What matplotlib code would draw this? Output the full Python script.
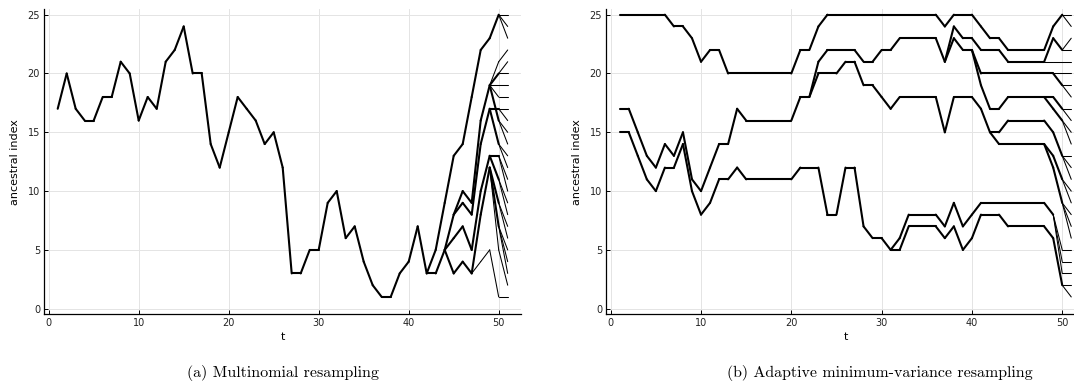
import matplotlib
matplotlib.use('Agg')
import matplotlib.pyplot as plt
from matplotlib.collections import LineCollection
from collections import Counter

T_END = 51

# (a) multinomial resampling: the common ancestral path, t = 1..51
trunk_a = [17, 20, 17, 16, 16, 18, 18, 21, 20, 16,
           18, 17, 21, 22, 24, 20, 20, 14, 12, 15,
           18, 17, 16, 14, 15, 12, 3, 3, 5, 5,
           9, 10, 6, 7, 4, 2, 1, 1, 3, 4,
           7, 3, 3, 5, 3, 4, 3, 4, 5, 1, 1]
# side lineages: (start t, ancestral indices from start t up to t = 51)
branches_a = [
    (42, [3, 5, 9, 13, 14, 18, 22, 23, 25, 25]),
    (50, [25, 24]), (50, [25, 23]),
    (44, [5, 8, 10, 9, 16, 19, 19, 19]),
    (49, [19, 21, 22]), (49, [19, 20, 20]), (50, [20, 21]), (49, [19, 18, 18]),
    (49, [19, 16, 15]), (50, [16, 14]),
    (45, [8, 9, 8, 14, 17, 17, 17]), (50, [17, 16]),
    (49, [17, 14, 13]), (50, [14, 12]),
    (44, [5, 6, 7, 5, 10, 13, 13, 11]), (50, [13, 10]),
    (49, [13, 11, 9]), (50, [11, 8]),
    (47, [3, 8, 12, 9, 7]), (50, [9, 6]),
    (49, [12, 7, 5]), (50, [7, 4]), (50, [7, 3]),
    (49, [12, 5, 2]),
]

# (b) adaptive minimum-variance resampling: three root lineages, t = 1..51
top_b = [25, 25, 25, 25, 25, 25, 24, 24, 23, 21,
         22, 22, 20, 20, 20, 20, 20, 20, 20, 20,
         22, 22, 24, 25, 25, 25, 25, 25, 25, 25,
         25, 25, 25, 25, 25, 25, 24, 25, 25, 25,
         24, 23, 23, 22, 22, 22, 22, 22, 24, 25, 25]
mid_b = [17, 17, 15, 13, 12, 14, 13, 15, 11, 10,
         12, 14, 14, 17, 16, 16, 16, 16, 16, 16,
         18, 18, 21, 22, 22, 22, 22, 21, 21, 22,
         22, 23, 23, 23, 23, 23, 21, 24, 23, 23,
         22, 22, 22, 21, 21, 21, 21, 21, 23, 22, 22]
low_b = [15, 15, 13, 11, 10, 12, 12, 14, 10, 8,
         9, 11, 11, 12, 11, 11, 11, 11, 11, 11,
         12, 12, 12, 8, 8, 12, 12, 7, 6, 6,
         5, 6, 8, 8, 8, 8, 7, 9, 7, 8,
         9, 9, 9, 9, 9, 9, 9, 9, 8, 5, 5]
branches_b = [
    (22, [18, 20, 20, 20, 21, 21, 19, 19, 18, 17, 18, 18, 18, 18, 18,
          15, 18, 18, 18, 17, 15, 15, 16, 16, 16, 16, 16, 15, 13, 13]),
    (50, [13, 12]), (50, [13, 11]),
    (42, [15, 14, 14, 14, 14, 14, 14, 13, 11, 10]), (50, [11, 9]),
    (48, [14, 12, 9, 8]), (50, [9, 7]), (50, [9, 6]),
    (37, [21, 23, 22, 22, 20, 20, 20, 20, 20, 20, 20, 20, 20, 20, 20]),
    (49, [20, 19, 19]), (50, [19, 18]),
    (40, [22, 19, 17, 17, 18, 18, 18, 18, 18, 18, 17, 17]),
    (50, [17, 16]), (48, [18, 17, 16, 15]), (50, [16, 14]),
    (48, [21, 21, 21, 21]),
    (50, [22, 23]),
    (50, [25, 24]),
    (31, [5, 5, 7, 7, 7, 7, 6, 7, 5, 6, 8, 8, 8, 7, 7, 7, 7, 7, 6, 2, 2]),
    (50, [2, 1]),
    (49, [8, 4, 4]), (49, [8, 3, 3]),
]

paths_a = [(1, trunk_a)] + branches_a
paths_b = [(1, top_b), (1, mid_b), (1, low_b)] + branches_b


def draw_tree(ax, paths):
    parent = {}
    for t0, vals in paths:
        for i in range(1, len(vals)):
            parent[(t0 + i, vals[i])] = vals[i - 1]
    # how many final particles pass along each edge
    count = Counter()
    for (t, v) in list(parent):
        if t != T_END:
            continue
        node = (t, v)
        while node in parent:
            p = parent[node]
            count[(node[0] - 1, p, node[1])] += 1
            node = (node[0] - 1, p)
    segs, widths = [], []
    for (t, p, c), n in count.items():
        segs.append([(t, p), (t + 1, c)])
        widths.append(0.75 if n == 1 else 1.5)
    lc = LineCollection(segs, colors='black', linewidths=widths,
                        capstyle='round', joinstyle='round', zorder=3)
    ax.add_collection(lc)


W, H = 1074, 389
fig = plt.figure(figsize=(W / 100, H / 100), dpi=100)
ax_a = fig.add_axes([44.2 / W, 75 / H, 477 / W, 304.6 / H])
ax_b = fig.add_axes([606.2 / W, 75 / H, 478.6 / W, 304.6 / H])

for ax, paths in [(ax_a, paths_a), (ax_b, paths_b)]:
    draw_tree(ax, paths)
    ax.set_xlim(-0.5, 52.5)
    ax.set_ylim(-0.45, 25.45)
    ax.set_xticks([0, 10, 20, 30, 40, 50])
    ax.set_yticks([0, 5, 10, 15, 20, 25])
    ax.grid(True, color='#e4e4e4', linewidth=0.7)
    ax.set_axisbelow(True)
    for s in ['top', 'right']:
        ax.spines[s].set_visible(False)
    for s in ['left', 'bottom']:
        ax.spines[s].set_linewidth(0.9)
    ax.tick_params(direction='in', length=3, width=0.7, labelsize=7,
                   pad=3, colors='black', labelcolor='#222222')
    ax.set_xlabel('t', fontsize=8)
    ax.set_ylabel('ancestral index', fontsize=8)
    ax.xaxis.set_label_coords(0.5, -0.058)
    ax.yaxis.set_label_coords(-0.051, 0.5)

fig.text(283 / W, 16 / H, '(a) Multinomial resampling', family='cmr10',
         fontsize=11.5, ha='center', va='center')
fig.text(880 / W, 16 / H, '(b) Adaptive minimum-variance resampling', family='cmr10',
         fontsize=11.5, ha='center', va='center')

fig.savefig('out.png', dpi=100)
